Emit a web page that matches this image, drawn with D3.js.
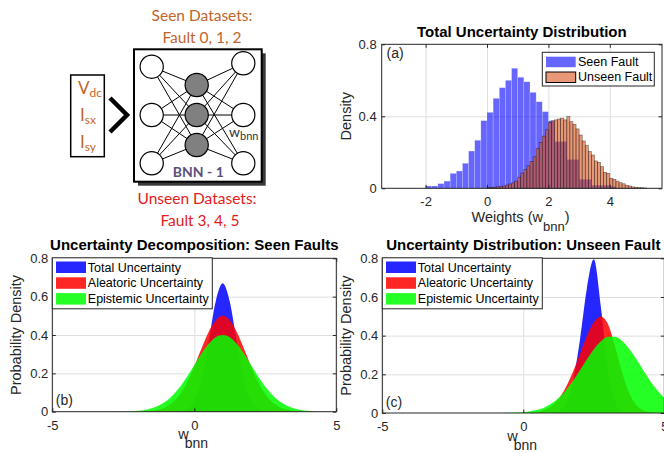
<!DOCTYPE html>
<html>
<head>
<meta charset="utf-8">
<script src="https://cdn.jsdelivr.net/npm/d3@7"></script>
<style>
body { margin: 0; background: #fff; }
svg { display: block; font-family: "Liberation Sans", Arial, sans-serif; }
</style>
</head>
<body>
<div id="chart"></div>
<script>
// ---- data ----
// (a) histograms
var seenLeft = [-2.0,-1.8,-1.6,-1.4,-1.2,-1.0,-0.8,-0.6,-0.4,-0.2,0.0,0.2,0.4,0.6,0.8,1.0,1.2,1.4,1.6,1.8,2.0,2.2,2.4,2.6,2.8,3.0,3.2,3.4,3.6,3.8,4.0];
var seenDensity = [0.013,0.013,0.026,0.040,0.083,0.096,0.139,0.207,0.267,0.376,0.422,0.50,0.559,0.60,0.667,0.617,0.592,0.533,0.481,0.426,0.376,0.26,0.26,0.16,0.16,0.05,0.05,0.017,0.017,0.017,0.01];
var seenBinWidth = 0.2;
var unseenLeft = [0.0,0.1,0.2,0.3,0.4,0.5,0.6,0.7,0.8,0.9,1.0,1.1,1.2,1.3,1.4,1.5,1.6,1.7,1.8,1.9,2.0,2.1,2.2,2.3,2.4,2.5,2.6,2.7,2.8,2.9,3.0,3.1,3.2,3.3,3.4,3.5,3.6,3.7,3.8,3.9,4.0,4.1,4.2,4.3,4.4,4.5,4.6,4.7,4.8,4.9,5.0,5.1];
var unseenDensity = [0.004,0.004,0.006,0.008,0.01,0.012,0.018,0.024,0.03,0.04,0.062,0.085,0.105,0.125,0.15,0.175,0.22,0.255,0.29,0.325,0.365,0.375,0.38,0.385,0.39,0.38,0.398,0.37,0.355,0.33,0.296,0.263,0.237,0.204,0.185,0.152,0.144,0.12,0.089,0.083,0.056,0.05,0.04,0.031,0.025,0.017,0.013,0.008,0.006,0.004,0.003,0.002];
var unseenBinWidth = 0.1;
var histXTicks = [-2, 0, 2, 4];
var histYTicks = [0, 0.4, 0.8];
var histLegend = ["Seen Fault", "Unseen Fault"];

// (b),(c) densities on a common w grid
var wGrid = [-3,-2.75,-2.5,-2.25,-2,-1.75,-1.5,-1.25,-1,-0.75,-0.5,-0.25,0,0.25,0.5,0.75,1,1.25,1.5,1.75,2,2.25,2.5,2.75,3,3.25,3.5,3.75,4,4.25,4.5,4.75,5];
var seenTotal = [0,0,0,0,0,0,0,0,0,0.0003,0.0026,0.0141,0.0568,0.167,0.361,0.574,0.67,0.574,0.361,0.167,0.0568,0.0141,0.0026,0.0003,0,0,0,0,0,0,0,0,0];
var seenAleatoric = [0,0,0.0001,0.0002,0.0006,0.0017,0.0045,0.011,0.0247,0.050,0.092,0.154,0.236,0.328,0.414,0.477,0.50,0.477,0.414,0.328,0.236,0.154,0.092,0.050,0.0247,0.011,0.0045,0.0017,0.0006,0.0002,0.0001,0,0];
var seenEpistemic = [0.0001,0.0004,0.0009,0.002,0.0044,0.0091,0.0176,0.032,0.054,0.087,0.130,0.183,0.243,0.302,0.353,0.388,0.40,0.388,0.353,0.302,0.243,0.183,0.130,0.087,0.054,0.032,0.0176,0.0091,0.0044,0.002,0.0009,0.0004,0.0001];
var unseenTotal = [0,0,0,0,0,0,0,0,0,0,0,0,0,0,0,0.001,0.003,0.012,0.048,0.155,0.37,0.64,0.795,0.55,0.23,0.059,0.009,0.001,0,0,0,0,0];
var unseenAleatoric = [0,0,0,0,0,0,0,0,0,0,0,0,0.001,0.003,0.007,0.017,0.037,0.073,0.13,0.209,0.303,0.397,0.469,0.499,0.46,0.347,0.212,0.106,0.043,0.014,0.004,0.001,0];
var unseenEpistemic = [0,0,0,0,0,0,0,0,0.0001,0.0003,0.0009,0.002,0.0042,0.0085,0.0162,0.029,0.049,0.077,0.116,0.164,0.22,0.277,0.33,0.371,0.394,0.394,0.373,0.332,0.28,0.222,0.166,0.118,0.079];
var curveXTicks = [-5, 0, 5];
var curveYTicks = [0, 0.2, 0.4, 0.6, 0.8];
var curveLegend = ["Total Uncertainty", "Aleatoric Uncertainty", "Epistemic Uncertainty"];

// ---- drawing ----
var width = 664, height = 453;
var axisColor = "#262626", gridColor = "#dfdfdf";

var svg = d3.select("#chart")
    .append("svg")
    .attr("width", width)
    .attr("height", height);

function drawGrid(x, y, xTicks, yTicks) {
    var g = svg.append("g");
    var h = y.range()[0] - y.range()[1];
    var w = x.range()[1] - x.range()[0];
    g.append("g")
        .attr("transform", "translate(0," + y.range()[0] + ")")
        .call(d3.axisBottom(x).tickValues(xTicks).tickSize(-h).tickFormat(""))
        .call(function(s) { s.select(".domain").remove(); })
        .selectAll("line").attr("stroke", gridColor);
    g.append("g")
        .attr("transform", "translate(" + x.range()[0] + ",0)")
        .call(d3.axisLeft(y).tickValues(yTicks).tickSize(-w).tickFormat(""))
        .call(function(s) { s.select(".domain").remove(); })
        .selectAll("line").attr("stroke", gridColor);
}

function drawAxes(x, y, xTicks, yTicks, xPad, yPad) {
    var g = svg.append("g");
    var x0 = x.range()[0], x1 = x.range()[1], y0 = y.range()[0], y1 = y.range()[1];
    var tl = -3.5;
    var fmt = function(d) { return String(d); };
    var xb = g.append("g").attr("transform", "translate(0," + y0 + ")")
        .call(d3.axisBottom(x).tickValues(xTicks).tickSize(tl).tickPadding(xPad).tickFormat(fmt));
    var yl = g.append("g").attr("transform", "translate(" + x0 + ",0)")
        .call(d3.axisLeft(y).tickValues(yTicks).tickSize(tl).tickPadding(yPad).tickFormat(fmt));
    g.append("g").attr("transform", "translate(0," + y1 + ")")
        .call(d3.axisTop(x).tickValues(xTicks).tickSize(tl).tickFormat(""));
    g.append("g").attr("transform", "translate(" + x1 + ",0)")
        .call(d3.axisRight(y).tickValues(yTicks).tickSize(tl).tickFormat(""));
    g.selectAll(".domain").remove();
    g.selectAll("line").attr("stroke", axisColor);
    g.selectAll("text")
        .attr("font-family", "Liberation Sans, Arial, sans-serif")
        .attr("font-size", 13)
        .attr("fill", axisColor);
    g.append("rect")
        .attr("x", x0).attr("y", y1)
        .attr("width", x1 - x0).attr("height", y0 - y1)
        .attr("fill", "none").attr("stroke", axisColor).attr("stroke-width", 1);
}

function addText(x, y, str, size, opts) {
    opts = opts || {};
    return svg.append("text")
        .attr("x", x).attr("y", y)
        .attr("font-size", size)
        .attr("font-weight", opts.bold ? "bold" : null)
        .attr("text-anchor", opts.anchor || "start")
        .attr("fill", opts.fill || axisColor)
        .attr("font-family", opts.family || null)
        .text(str);
}

function yLabel(cx, cy, str) {
    svg.append("text")
        .attr("transform", "translate(" + cx + "," + cy + ") rotate(-90)")
        .attr("text-anchor", "middle")
        .attr("font-size", 14.5)
        .attr("fill", axisColor)
        .text(str);
}

// ---------- (a) histogram ----------
var xa = d3.scaleLinear().domain([-3.43, 5.7]).range([381.7, 662]);
var ya = d3.scaleLinear().domain([0, 0.8]).range([188.3, 44.3]);

drawGrid(xa, ya, histXTicks, [0.4]);

svg.append("g").selectAll("rect")
    .data(seenDensity)
    .enter()
    .append("rect")
    .attr("x", function(d, i) { return xa(seenLeft[i]); })
    .attr("y", function(d) { return ya(d); })
    .attr("width", function(d, i) { return xa(seenLeft[i] + seenBinWidth) - xa(seenLeft[i]); })
    .attr("height", function(d) { return ya(0) - ya(d); })
    .attr("fill", "#0000ff")
    .attr("fill-opacity", 0.6)
    .attr("stroke", "#ffffff")
    .attr("stroke-opacity", 0.35)
    .attr("stroke-width", 0.6);

svg.append("g").selectAll("rect")
    .data(unseenDensity)
    .enter()
    .append("rect")
    .attr("x", function(d, i) { return xa(unseenLeft[i]); })
    .attr("y", function(d) { return ya(d); })
    .attr("width", function(d, i) { return xa(unseenLeft[i] + unseenBinWidth) - xa(unseenLeft[i]); })
    .attr("height", function(d) { return ya(0) - ya(d); })
    .attr("fill", "#d9531a")
    .attr("fill-opacity", 0.6)
    .attr("stroke", "#000000")
    .attr("stroke-opacity", 0.55)
    .attr("stroke-width", 0.6);

drawAxes(xa, ya, histXTicks, histYTicks, 8, 5);

addText(521.8, 36.5, "Total Uncertainty Distribution", 15, {bold: true, anchor: "middle", fill: "#000"});
yLabel(351, 116.3, "Density");
var xla = svg.append("text").attr("x", 471.5).attr("y", 221.5).attr("font-size", 14.5).attr("fill", axisColor);
xla.append("tspan").text("Weights (w");
xla.append("tspan").attr("dy", 9).attr("font-size", 13).text("bnn");
xla.append("tspan").attr("dy", -9).text(")");
addText(386.5, 58, "(a)", 14);

// legend (a)
var lga = svg.append("g");
lga.append("rect").attr("x", 542.3).attr("y", 52.3).attr("width", 112).attr("height", 33.7)
    .attr("fill", "#fff").attr("stroke", axisColor);
lga.selectAll("rect.sw").data(histLegend).enter().append("rect")
    .attr("class", "sw")
    .attr("x", 546).attr("y", function(d, i) { return 56.7 + i * 15.3; })
    .attr("width", 29.7).attr("height", 10.5)
    .attr("fill", function(d, i) { return i === 0 ? "#0000ff" : "#d9531a"; })
    .attr("fill-opacity", 0.6)
    .attr("stroke", function(d, i) { return i === 0 ? "none" : "#000"; })
    .attr("stroke-width", 1);
lga.selectAll("text").data(histLegend).enter().append("text")
    .attr("x", 578).attr("y", function(d, i) { return 66 + i * 15.3; })
    .attr("font-size", 12.5).attr("fill", "#000")
    .text(function(d) { return d; });

// ---------- (b), (c) densities ----------
var curveColors = ["#0000ff", "#ff0000", "#00ff00"];

function densityPanel(left, right, bottom, series, title, tag, ylx) {
    var x = d3.scaleLinear().domain([-5, 5]).range([left, right]);
    var y = d3.scaleLinear().domain([0, 0.8]).range([bottom, 258.3]);
    drawGrid(x, y, curveXTicks, [0.2, 0.4, 0.6]);

    var clipId = "clip" + tag;
    svg.append("clipPath").attr("id", clipId).append("rect")
        .attr("x", left).attr("y", 258.3).attr("width", right - left).attr("height", bottom - 258.3);

    var area = d3.area()
        .x(function(d, i) { return x(wGrid[i]); })
        .y0(y(0))
        .y1(function(d) { return y(d); })
        .curve(d3.curveMonotoneX);

    svg.append("g").attr("clip-path", "url(#" + clipId + ")")
        .selectAll("path")
        .data(series)
        .enter()
        .append("path")
        .attr("d", area)
        .attr("fill", function(d, i) { return curveColors[i]; })
        .attr("fill-opacity", 0.85);

    drawAxes(x, y, curveXTicks, curveYTicks, 9, 4);

    addText((left + right) / 2, 250, title, 15, {bold: true, anchor: "middle", fill: "#000"});
    yLabel(ylx, (258.3 + bottom) / 2, "Probability Density");
    var xl = svg.append("text").attr("x", x(0) - 16).attr("y", bottom + 27.5)
        .attr("font-size", 14.5).attr("fill", axisColor);
    xl.append("tspan").text("w");
    xl.append("tspan").attr("dy", 9).attr("dx", -4).attr("font-size", 14).text("bnn");
    addText(left + 3.5, bottom - 6.5, "(" + tag + ")", 14);

    // legend
    var lg = svg.append("g");
    lg.append("rect").attr("x", left).attr("y", 257.8).attr("width", 160).attr("height", 51)
        .attr("fill", "#fff").attr("stroke", axisColor);
    lg.selectAll("rect.sw").data(curveLegend).enter().append("rect")
        .attr("class", "sw")
        .attr("x", left + 3.7).attr("y", function(d, i) { return 261.5 + i * 15.8; })
        .attr("width", 30).attr("height", 11.5)
        .attr("fill", function(d, i) { return curveColors[i]; })
        .attr("fill-opacity", 0.85);
    lg.selectAll("text").data(curveLegend).enter().append("text")
        .attr("x", left + 35.5).attr("y", function(d, i) { return 271.5 + i * 15.8; })
        .attr("font-size", 12.5).attr("fill", "#000")
        .text(function(d) { return d; });
}

densityPanel(52.3, 336.3, 411.7, [seenTotal, seenAleatoric, seenEpistemic],
    "Uncertainty Decomposition: Seen Faults", "b", 21);
densityPanel(382.3, 664.3, 413, [unseenTotal, unseenAleatoric, unseenEpistemic],
    "Uncertainty Distribution: Unseen Fault", "c", 351);

// ---------- schematic (top left) ----------
var brown = "#bf652d", red = "#e31b1b", diagFont = "Lato, 'Open Sans', sans-serif";
addText(202, 21, "Seen Datasets:", 15.5, {anchor: "middle", fill: brown, family: diagFont});
addText(202, 43, "Fault 0, 1, 2", 15.5, {anchor: "middle", fill: brown, family: diagFont});
addText(197, 204, "Unseen Datasets:", 15.5, {anchor: "middle", fill: red, family: diagFont});
addText(200, 226, "Fault 3, 4, 5", 15.5, {anchor: "middle", fill: red, family: diagFont});

// inputs
svg.append("rect").attr("x", 70.7).attr("y", 75).attr("width", 33.6).attr("height", 81.7)
    .attr("fill", "#fff").attr("stroke", "#000").attr("stroke-width", 1.5);
var inputs = [["V", "dc"], ["I", "sx"], ["I", "sy"]];
inputs.forEach(function(p, i) {
    var t = svg.append("text").attr("x", i === 0 ? 78 : 80).attr("y", 94 + i * 27)
        .attr("font-size", 17).attr("fill", brown).attr("font-family", diagFont);
    t.append("tspan").text(p[0]);
    t.append("tspan").attr("dy", 3).attr("font-size", 12).text(p[1]);
});
svg.append("polyline").attr("points", "110,98 127,115 110,132")
    .attr("fill", "none").attr("stroke", "#000").attr("stroke-width", 4.5);

// network box with shadow
svg.append("rect").attr("x", 138).attr("y", 53.3).attr("width", 127.7).attr("height", 132.4).attr("fill", "#3a3a3a");
svg.append("rect").attr("x", 134).attr("y", 49.3).attr("width", 127.7).attr("height", 132.4)
    .attr("fill", "#fff").attr("stroke", "#000").attr("stroke-width", 2);

var layers = [
    {x: 151.7, ys: [66.7, 115, 163.3], fill: "#fff"},
    {x: 196.7, ys: [85, 115, 145], fill: "#808080"},
    {x: 243.3, ys: [63.3, 115, 163.3], fill: "#fff"}
];
var edges = [];
for (var l = 0; l < 2; l++) {
    layers[l].ys.forEach(function(ya1) {
        layers[l + 1].ys.forEach(function(yb) {
            edges.push([layers[l].x, ya1, layers[l + 1].x, yb]);
        });
    });
}
svg.append("g").selectAll("line").data(edges).enter().append("line")
    .attr("x1", function(d) { return d[0]; }).attr("y1", function(d) { return d[1]; })
    .attr("x2", function(d) { return d[2]; }).attr("y2", function(d) { return d[3]; })
    .attr("stroke", "#000").attr("stroke-width", 1);
layers.forEach(function(L) {
    svg.append("g").selectAll("circle").data(L.ys).enter().append("circle")
        .attr("cx", L.x).attr("cy", function(d) { return d; })
        .attr("r", 11.6)
        .attr("fill", L.fill).attr("stroke", "#000").attr("stroke-width", 1.2);
});
var wl = svg.append("text").attr("x", 229).attr("y", 137).attr("font-size", 14)
    .attr("fill", "#333").attr("font-family", diagFont);
wl.append("tspan").text("w");
wl.append("tspan").attr("dy", 3).attr("font-size", 11).text("bnn");
addText(198.3, 176.7, "BNN - 1", 14, {bold: true, anchor: "middle", fill: "#5e4e7e", family: diagFont});
</script>
</body>
</html>
